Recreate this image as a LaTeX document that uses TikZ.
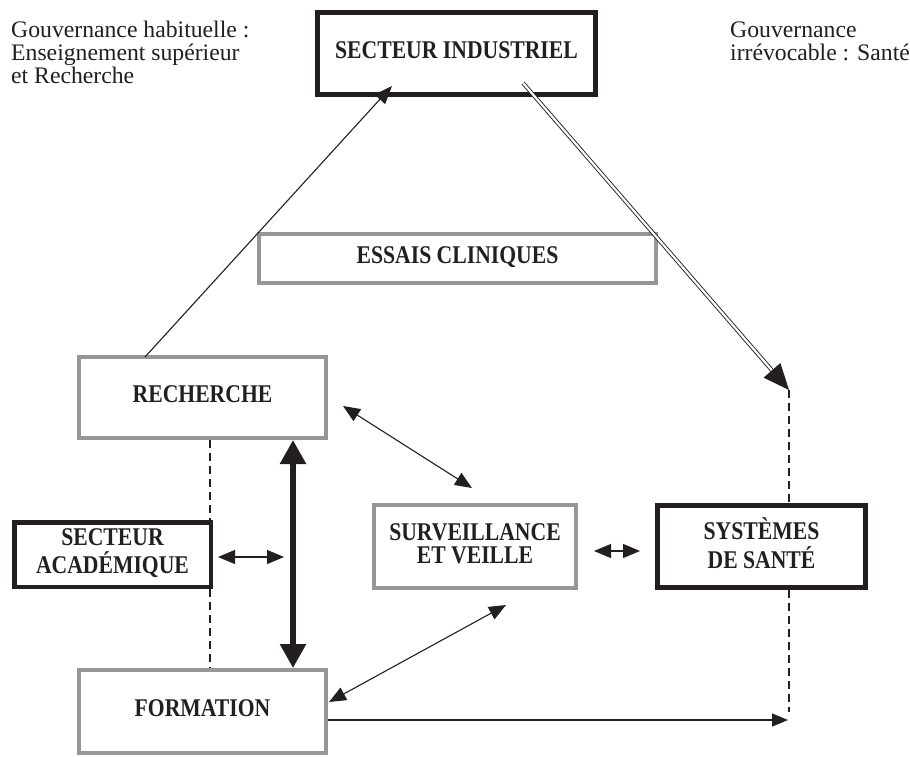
\documentclass[tikz,border=0pt]{standalone}
\usepackage{fontspec}
\setmainfont{Liberation Serif}
\usetikzlibrary{arrows.meta,calc}
\newcommand\boxlbl[1]{\scalebox{0.85}[1]{\fontsize{25.5}{22}\selectfont\bfseries\begin{tabular}{@{}c@{}}#1\end{tabular}}}
\newcommand\govtxt[1]{\fontsize{23.7}{23}\selectfont\begin{tabular}[t]{@{}l@{}}#1\end{tabular}}
\definecolor{boxgray}{RGB}{150,150,150}
\definecolor{ink}{RGB}{35,31,32}
\begin{document}
\begin{tikzpicture}[x=1pt,y=-1pt,
  graybox/.style={draw=boxgray,line width=4pt,inner sep=0pt,text=ink},
  blackbox/.style={draw=ink,line width=5pt,inner sep=0pt,text=ink},
  conn/.style={draw=ink,line width=1.1pt},
  biarrow/.style={conn,arrows={Triangle[length=17pt,width=14pt]-Triangle[length=17pt,width=14pt]}},
  onearrow/.style={conn,arrows={-Triangle[length=16pt,width=13pt]}},
  dsh/.style={draw=ink,line width=1.1pt,dash pattern=on 8pt off 5pt},
  dbl/.style={draw=ink,double=white,double distance=2.2pt,line width=0.9pt},
  thickarrow/.style={draw=ink,line width=5.5pt,arrows={Triangle[length=24pt,width=25pt]-Triangle[length=24pt,width=25pt]}}
]
\useasboundingbox (0,0) rectangle (910,756);

% boxes
\node[blackbox, minimum width=278pt, minimum height=82pt] (ind) at (456.5,53.5) {\boxlbl{SECTEUR INDUSTRIEL}};
\node[graybox, minimum width=397pt, minimum height=49pt] (ess) at (457.5,258.5) {\boxlbl{ESSAIS CLINIQUES}};
\node[graybox, minimum width=247pt, minimum height=81pt] (rech) at (202.5,397.5) {\boxlbl{RECHERCHE}};
\node[blackbox, line width=4.5pt, minimum width=196.5pt, minimum height=64.5pt] (acad) at (112.5,554.5) {\boxlbl{SECTEUR\\ACADÉMIQUE}};
\node[graybox, minimum width=247pt, minimum height=83pt] (form) at (202.5,711.5) {\boxlbl{FORMATION}};
\node[graybox, minimum width=202pt, minimum height=83pt] (surv) at (475,546.5) {\boxlbl{SURVEILLANCE\\ET VEILLE}};
\node[blackbox, minimum width=208pt, minimum height=82pt] (sys) at (761.5,546.5) {\boxlbl{SYSTÈMES\\DE SANTÉ}};

% governance texts
\node[anchor=base west, inner sep=0pt, text=ink] (govL) at (11,37) {\govtxt{Gouvernance habituelle :\\Enseignement supérieur\\et Recherche}};
\node[anchor=base west, inner sep=0pt, text=ink] (govR) at (730,37) {\govtxt{Gouvernance\\irrévocable : Santé}};

% helper coordinates
\coordinate (dx) at ($(sys.north)+(27.5,-113)$);
\coordinate (dy) at ($(sys.south)+(27.5,122)$);
\coordinate (hx) at ($(sys.south)+(26.5,130)$);
\coordinate (ax) at ($(acad.north east)+(-3,0)$);
\coordinate (ds) at ($(ind.south west)+(208,-14)$);

% recherche -> secteur industriel
\draw[conn, arrows={-Triangle[length=18pt,width=14pt]}] ($(rech.north west)+(68,2)$) -- ($(ind.south west)+(77,-11)$);

% secteur industriel => systemes de sante (double line)
\draw[dbl, shorten >=20pt] (ds) -- (dx);
\draw[draw=ink, line width=0.9pt, arrows={-Triangle[length=26pt,width=22pt]}] ($(dx)!22pt!(ds)$) -- (dx);

% dashed verticals
\draw[dsh] (dx) -- (dx |- sys.north);
\draw[dsh] (dx |- sys.south) -- (dy);
\draw[dsh] (ax |- rech.south) -- (ax);
\draw[dsh] (ax |- acad.south) -- (ax |- form.north);

% thick double arrow recherche <-> formation
\draw[thickarrow] ($(rech.south east)+(-35,0)$) -- ($(form.north east)+(-35,0)$);

% small double arrows
\draw[biarrow] ($(acad.east)+(5,2.5)$) -- ($(acad.east)+(71,2.5)$);
\draw[biarrow] ($(rech.east)+(15,8.5)$) -- ($(surv.north)+(-3,-15)$);
\draw[biarrow] ($(surv.south)+(31,15)$) -- ($(form.east)+(1,-9.5)$);
\draw[biarrow] ($(surv.east)+(16,4.5)$) -- ($(sys.west)+(-15,4.5)$);

% formation -> (systemes de sante line)
\draw[onearrow] ($(form.east)+(0,8.5)$) -- (hx);
\end{tikzpicture}
\end{document}
